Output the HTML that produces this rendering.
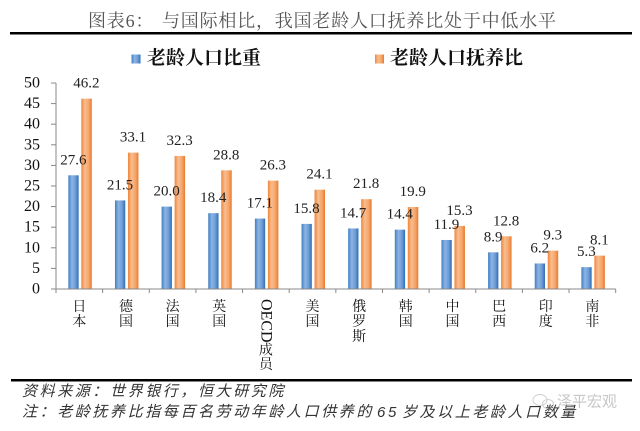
<!DOCTYPE html>
<html><head><meta charset="utf-8"><style>
html,body{margin:0;padding:0;background:#fff;}
svg{display:block;}
.v{font-family:"Liberation Serif",serif;font-size:15px;fill:#222;text-anchor:middle;}
.t{font-family:"Liberation Serif",serif;font-size:16px;fill:#111;text-anchor:end;dominant-baseline:central;}
.c{font-family:"Liberation Serif","Noto Serif CJK SC",serif;font-size:14px;fill:#111;text-anchor:middle;dominant-baseline:central;}
.lg{font-family:"Liberation Serif","Noto Serif CJK SC",serif;font-size:19px;font-weight:bold;fill:#111;dominant-baseline:central;}
.ti{font-family:"Liberation Serif","Noto Serif CJK SC",serif;font-size:18px;fill:#555;dominant-baseline:central;letter-spacing:0.8px;}
.ft{font-family:"Liberation Sans","Noto Sans CJK SC",sans-serif;font-size:15px;font-style:italic;fill:#333;letter-spacing:2.6px;dominant-baseline:central;}
</style></head><body>
<svg width="640" height="431" viewBox="0 0 640 431" xmlns="http://www.w3.org/2000/svg">
<defs>
<linearGradient id="gb" x1="0" y1="0" x2="1" y2="0">
<stop offset="0" stop-color="#3f7fc6"/><stop offset="0.35" stop-color="#8db4e2"/><stop offset="0.7" stop-color="#6c9cd6"/><stop offset="1" stop-color="#2e6db5"/>
</linearGradient>
<linearGradient id="go" x1="0" y1="0" x2="1" y2="0">
<stop offset="0" stop-color="#f0853a"/><stop offset="0.35" stop-color="#f8bd8f"/><stop offset="0.7" stop-color="#f5a66c"/><stop offset="1" stop-color="#ea7a2c"/>
</linearGradient>
</defs>

<!-- title -->
<text class="ti" x="88" y="21">图表6：</text>
<text class="ti" x="162" y="21">与国际相比，我国老龄人口抚养比处于中低水平</text>
<rect x="10" y="32" width="622" height="2.5" fill="#000"/>

<!-- legend -->
<rect x="131.5" y="54.5" width="9" height="9" fill="url(#gb)"/>
<text class="lg" x="147" y="58.5">老龄人口比重</text>
<rect x="375" y="54.5" width="9" height="9" fill="url(#go)"/>
<text class="lg" x="390" y="58.5">老龄人口抚养比</text>

<!-- y axis -->
<g stroke="#888" stroke-width="1">
<line x1="56" y1="83" x2="56" y2="289"/>
<line x1="51" y1="289" x2="56" y2="289"/>
<line x1="51" y1="268.4" x2="56" y2="268.4"/>
<line x1="51" y1="247.8" x2="56" y2="247.8"/>
<line x1="51" y1="227.2" x2="56" y2="227.2"/>
<line x1="51" y1="206.6" x2="56" y2="206.6"/>
<line x1="51" y1="186" x2="56" y2="186"/>
<line x1="51" y1="165.4" x2="56" y2="165.4"/>
<line x1="51" y1="144.8" x2="56" y2="144.8"/>
<line x1="51" y1="124.2" x2="56" y2="124.2"/>
<line x1="51" y1="103.6" x2="56" y2="103.6"/>
<line x1="51" y1="83" x2="56" y2="83"/>
</g>
<g>
<text class="t" x="40" y="289">0</text>
<text class="t" x="40" y="268.4">5</text>
<text class="t" x="40" y="247.8">10</text>
<text class="t" x="40" y="227.2">15</text>
<text class="t" x="40" y="206.6">20</text>
<text class="t" x="40" y="186">25</text>
<text class="t" x="40" y="165.4">30</text>
<text class="t" x="40" y="144.8">35</text>
<text class="t" x="40" y="124.2">40</text>
<text class="t" x="40" y="103.6">45</text>
<text class="t" x="40" y="83">50</text>
</g>

<!-- bars -->
<g>
<rect x="68.32" y="175.29" width="10.3" height="113.71" fill="url(#gb)"/>
<rect x="81.32" y="98.66" width="10.5" height="190.34" fill="url(#go)"/>
<rect x="114.96" y="200.42" width="10.3" height="88.58" fill="url(#gb)"/>
<rect x="127.96" y="152.63" width="10.5" height="136.37" fill="url(#go)"/>
<rect x="161.6" y="206.6" width="10.3" height="82.4" fill="url(#gb)"/>
<rect x="174.6" y="155.92" width="10.5" height="133.08" fill="url(#go)"/>
<rect x="208.24" y="213.19" width="10.3" height="75.81" fill="url(#gb)"/>
<rect x="221.24" y="170.34" width="10.5" height="118.66" fill="url(#go)"/>
<rect x="254.88" y="218.55" width="10.3" height="70.45" fill="url(#gb)"/>
<rect x="267.88" y="180.64" width="10.5" height="108.36" fill="url(#go)"/>
<rect x="301.52" y="223.9" width="10.3" height="65.1" fill="url(#gb)"/>
<rect x="314.52" y="189.71" width="10.5" height="99.29" fill="url(#go)"/>
<rect x="348.16" y="228.44" width="10.3" height="60.56" fill="url(#gb)"/>
<rect x="361.16" y="199.18" width="10.5" height="89.82" fill="url(#go)"/>
<rect x="394.8" y="229.67" width="10.3" height="59.33" fill="url(#gb)"/>
<rect x="407.8" y="207.01" width="10.5" height="81.99" fill="url(#go)"/>
<rect x="441.44" y="239.97" width="10.3" height="49.03" fill="url(#gb)"/>
<rect x="454.44" y="225.96" width="10.5" height="63.04" fill="url(#go)"/>
<rect x="488.08" y="252.33" width="10.3" height="36.67" fill="url(#gb)"/>
<rect x="501.08" y="236.26" width="10.5" height="52.74" fill="url(#go)"/>
<rect x="534.72" y="263.46" width="10.3" height="25.54" fill="url(#gb)"/>
<rect x="547.72" y="250.68" width="10.5" height="38.32" fill="url(#go)"/>
<rect x="581.36" y="267.16" width="10.3" height="21.84" fill="url(#gb)"/>
<rect x="594.36" y="255.63" width="10.5" height="33.37" fill="url(#go)"/>
</g>

<!-- value labels -->
<g>
<text class="v" x="73.32" y="164.3">27.6</text>
<text class="v" x="86.32" y="87.7">46.2</text>
<text class="v" x="119.96" y="189.4">21.5</text>
<text class="v" x="132.96" y="141.6">33.1</text>
<text class="v" x="166.6" y="195.6">20.0</text>
<text class="v" x="179.6" y="144.9">32.3</text>
<text class="v" x="213.24" y="202.2">18.4</text>
<text class="v" x="226.24" y="159.3">28.8</text>
<text class="v" x="259.88" y="207.5">17.1</text>
<text class="v" x="272.88" y="169.6">26.3</text>
<text class="v" x="306.52" y="212.9">15.8</text>
<text class="v" x="319.52" y="178.7">24.1</text>
<text class="v" x="353.16" y="217.4">14.7</text>
<text class="v" x="366.16" y="188.2">21.8</text>
<text class="v" x="399.8" y="218.7">14.4</text>
<text class="v" x="412.8" y="196">19.9</text>
<text class="v" x="446.44" y="229">11.9</text>
<text class="v" x="459.44" y="215">15.3</text>
<text class="v" x="493.08" y="241.3">8.9</text>
<text class="v" x="506.08" y="225.3">12.8</text>
<text class="v" x="539.72" y="252.5">6.2</text>
<text class="v" x="552.72" y="239.7">9.3</text>
<text class="v" x="586.36" y="256.2">5.3</text>
<text class="v" x="599.36" y="244.6">8.1</text>
</g>

<!-- x axis -->
<g stroke="#888" stroke-width="1">
<line x1="56" y1="289" x2="615.68" y2="289"/>
<line x1="56" y1="289" x2="56" y2="293"/>
<line x1="102.64" y1="289" x2="102.64" y2="293"/>
<line x1="149.28" y1="289" x2="149.28" y2="293"/>
<line x1="195.92" y1="289" x2="195.92" y2="293"/>
<line x1="242.56" y1="289" x2="242.56" y2="293"/>
<line x1="289.2" y1="289" x2="289.2" y2="293"/>
<line x1="335.84" y1="289" x2="335.84" y2="293"/>
<line x1="382.48" y1="289" x2="382.48" y2="293"/>
<line x1="429.12" y1="289" x2="429.12" y2="293"/>
<line x1="475.76" y1="289" x2="475.76" y2="293"/>
<line x1="522.4" y1="289" x2="522.4" y2="293"/>
<line x1="569.04" y1="289" x2="569.04" y2="293"/>
<line x1="615.68" y1="289" x2="615.68" y2="293"/>
</g>

<!-- category labels -->
<g>
<text class="c" x="79.32" y="307.5">日</text><text class="c" x="79.32" y="322.5">本</text>
<text class="c" x="125.96" y="307.5">德</text><text class="c" x="125.96" y="322.5">国</text>
<text class="c" x="172.6" y="307.5">法</text><text class="c" x="172.6" y="322.5">国</text>
<text class="c" x="219.24" y="307.5">英</text><text class="c" x="219.24" y="322.5">国</text>
<text transform="translate(265.88,299) rotate(90)" x="0" y="0" style="font-family:'Liberation Serif',serif;font-size:16px;fill:#111;dominant-baseline:central;">OECD</text>
<text class="c" x="265.88" y="351">成</text><text class="c" x="265.88" y="365.5">员</text>
<text class="c" x="312.52" y="307.5">美</text><text class="c" x="312.52" y="322.5">国</text>
<text class="c" x="359.16" y="307.5">俄</text><text class="c" x="359.16" y="322.5">罗</text><text class="c" x="359.16" y="337.5">斯</text>
<text class="c" x="405.8" y="307.5">韩</text><text class="c" x="405.8" y="322.5">国</text>
<text class="c" x="452.44" y="307.5">中</text><text class="c" x="452.44" y="322.5">国</text>
<text class="c" x="499.08" y="307.5">巴</text><text class="c" x="499.08" y="322.5">西</text>
<text class="c" x="545.72" y="307.5">印</text><text class="c" x="545.72" y="322.5">度</text>
<text class="c" x="592.36" y="307.5">南</text><text class="c" x="592.36" y="322.5">非</text>
</g>

<!-- bottom rule -->
<rect x="11" y="379" width="621" height="2.5" fill="#000"/>

<!-- footer -->
<text class="ft" x="22" y="391.5">资料来源：世界银行，恒大研究院</text>
<text class="ft" x="22" y="412">注：老龄抚养比指每百名劳动年龄人口供养的<tspan dx="3">65</tspan><tspan dx="3">岁及以上老龄人口数量</tspan></text>

<!-- watermark -->
<g opacity="0.55">
<ellipse cx="540" cy="400" rx="7" ry="5.5" fill="none" stroke="#aaa" stroke-width="1"/>
<ellipse cx="548" cy="404" rx="5.5" ry="4.5" fill="none" stroke="#aaa" stroke-width="1"/>
<text x="557" y="402" style="font-family:'Liberation Sans','Noto Sans CJK SC',sans-serif;font-size:15px;fill:#999;dominant-baseline:central;">泽平宏观</text>
</g>
</svg>
</body></html>
